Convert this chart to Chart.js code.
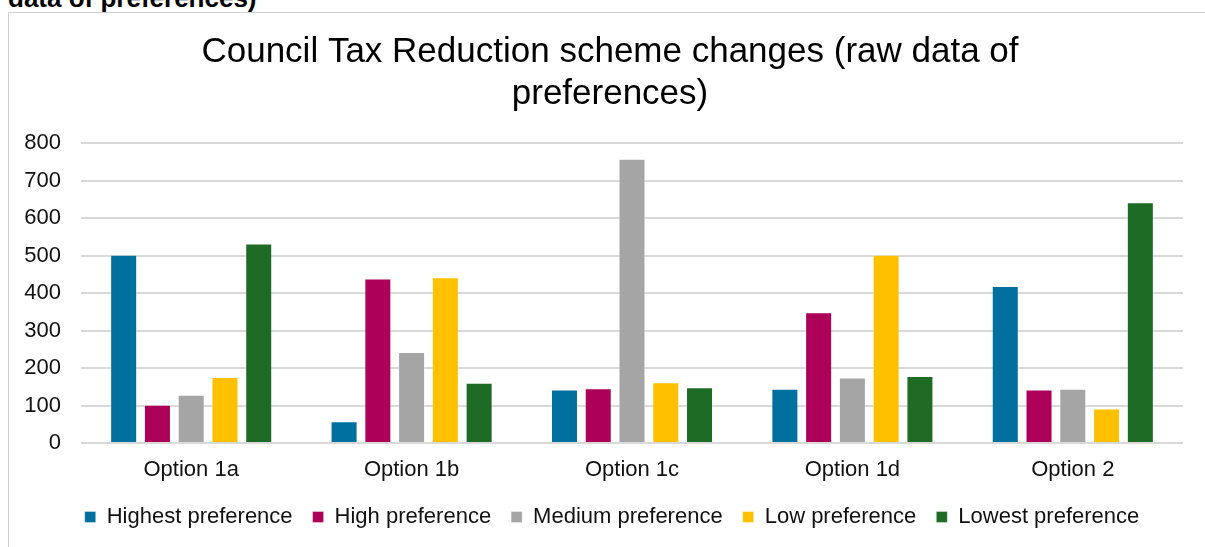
<!DOCTYPE html>
<html>
<head>
<meta charset="utf-8">
<script src="https://cdn.jsdelivr.net/npm/chart.js@4.4.1/dist/chart.umd.min.js"></script>
<style>
  html, body { margin: 0; padding: 0; background: #fff; overflow: hidden; }
  body { width: 1205px; height: 547px; position: relative; font-family: "Liberation Sans", Arial, sans-serif; }
  .caption { position: absolute; left: 8px; top: -15px; font-size: 26px; line-height: 26px; font-weight: bold; color: #000; white-space: nowrap; }
  .frame { position: absolute; left: 8px; top: 12px; width: 1300px; height: 600px; border-left: 1px solid #d0d0d0; border-top: 1px solid #d0d0d0; }
  .holder { position: absolute; left: 9px; top: 13px; width: 1196px; height: 534px; }
</style>
</head>
<body>
<div class="caption">data of preferences)</div>
<div class="frame"></div>
<div class="holder"><canvas id="ctrChart"></canvas></div>
<script>
'use strict';

const options = ['Option 1a', 'Option 1b', 'Option 1c', 'Option 1d', 'Option 2'];
const seriesNames = ['Highest preference', 'High preference', 'Medium preference', 'Low preference', 'Lowest preference'];
const highest = [502, 58, 143, 145, 419];
const high = [102, 439, 146, 349, 143];
const medium = [129, 243, 758, 175, 145];
const low = [176, 442, 162, 502, 92];
const lowest = [532, 161, 149, 179, 642];
const yTicks = [0, 100, 200, 300, 400, 500, 600, 700, 800];

const colours = ['#00709e', '#ad0058', '#a5a5a5', '#ffc000', '#1e6b26'];

// title and legend sit a little right of the canvas centre
const nudgeBlocks = {
  id: 'nudgeBlocks',
  afterLayout: function (chart) {
    if (chart.titleBlock) {
      chart.titleBlock.left += 9;
      chart.titleBlock.right += 9;
    }
    if (chart.legend) {
      chart.legend.left += 11;
      chart.legend.right += 11;
    }
  }
};

function displayChart() {
  const values = [highest, high, medium, low, lowest];
  const datasets = seriesNames.map(function (name, i) {
    return {
      label: name,
      data: values[i],
      backgroundColor: colours[i],
      borderColor: 'rgba(255, 255, 255, 0.35)',
      borderWidth: 1,
      categoryPercentage: 0.766,
      barPercentage: 0.8
    };
  });

  const chartGraphics = {
    type: 'bar',
    data: {
      labels: options,
      datasets: datasets
    },
    options: {
      responsive: true,
      maintainAspectRatio: false,
      animation: false,
      layout: {
        padding: { left: 10, right: 22, top: 0, bottom: 9 }
      },
      plugins: {
        title: {
          display: true,
          text: ['Council Tax Reduction scheme changes (raw data of', 'preferences)'],
          color: '#000',
          font: { family: 'Liberation Sans', size: 35, weight: 'normal', lineHeight: 1.2 },
          padding: { top: 18, bottom: 28 }
        },
        legend: {
          position: 'bottom',
          labels: {
            color: '#111',
            font: { family: 'Liberation Sans', size: 22 },
            boxWidth: 11,
            boxHeight: 11,
            padding: 20
          }
        },
        tooltip: { enabled: false }
      },
      scales: {
        x: {
          grid: { display: false, drawTicks: false },
          border: { display: false },
          ticks: {
            color: '#111',
            font: { family: 'Liberation Sans', size: 22 },
            padding: 14
          },
          afterFit: function (scale) {
            scale.height = 43;
          }
        },
        y: {
          min: 0,
          max: 800,
          afterBuildTicks: function (scale) {
            scale.ticks = yTicks.map(function (v) { return { value: v }; });
          },
          afterFit: function (scale) {
            scale.width = 62;
          },
          grid: { color: '#d9d9d9', lineWidth: 2, drawTicks: false },
          border: { display: false },
          ticks: {
            color: '#111',
            font: { family: 'Liberation Sans', size: 22 },
            padding: 20
          }
        }
      }
    },
    plugins: [nudgeBlocks]
  };

  const canvasChart = document.getElementById('ctrChart').getContext('2d');
  const myChart = new Chart(canvasChart, chartGraphics);
}

displayChart();
</script>
</body>
</html>
